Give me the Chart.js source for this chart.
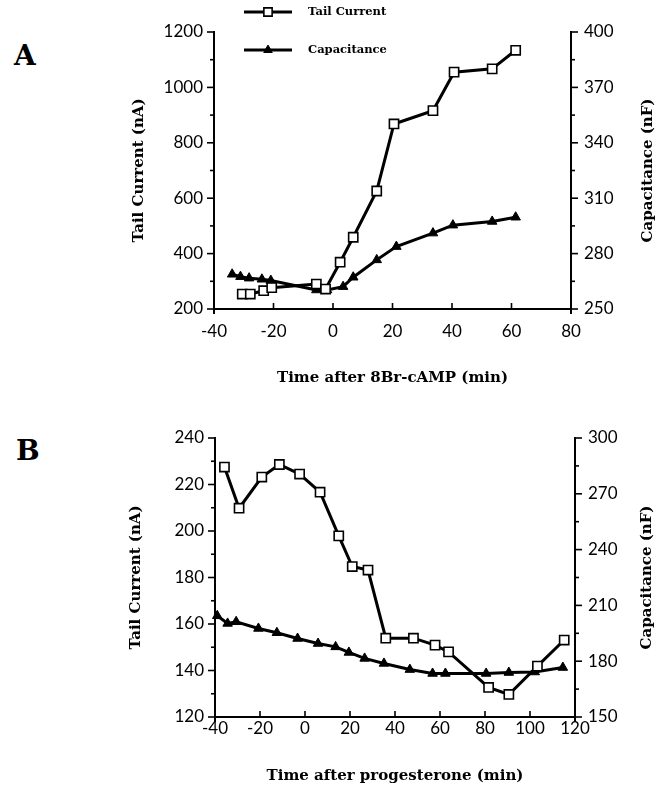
<!DOCTYPE html>
<html>
<head>
<meta charset="utf-8">
<script src="https://cdn.jsdelivr.net/npm/chart.js@4.4.0/dist/chart.umd.min.js"></script>
<style>
  body { margin: 0; background: #fff; width: 665px; height: 790px; position: relative; overflow: hidden; }
  canvas { position: absolute; left: 0; }
  #first_chart { top: 0; }
  #second_chart { top: 395px; }
  .panel { position: absolute; font: bold 28px 'DejaVu Serif'; line-height: 28px; color: #000; }
</style>
</head>
<body>
<div class="panel" style="left:14px;top:42px">A</div>
<div class="panel" style="left:16px;top:437px">B</div>
<canvas id="first_chart" width="665" height="395"></canvas>
<canvas id="second_chart" width="665" height="395"></canvas>
<script>
// panel A: 8Br-cAMP
const timeA_tail = [-30.5, -27.8, -23.3, -20.6, -5.6, -2.5, 2.4, 6.8, 14.7, 20.5, 33.6, 40.7, 53.5, 61.4]
const tailA = [254, 254, 266, 277, 290, 272, 369, 459, 626, 868, 916, 1055, 1067, 1134]
const timeA_cap = [-33.9, -31.1, -28.2, -23.9, -20.9, -5.6, -2, 3.4, 6.8, 14.7, 21.3, 33.6, 40.3, 53.5, 61.4]
const capA = [268.8, 267.5, 266.7, 266.1, 265.4, 260.3, 260.3, 262.1, 267.2, 276.6, 283.8, 291.1, 295.4, 297.4, 299.7]

// panel B: progesterone
const timeB_tail = [-35.8, -29.3, -19.2, -11.4, -2.4, 6.7, 15.0, 21.0, 28.0, 35.9, 48.2, 57.8, 63.8, 81.6, 90.6, 103.3, 115.2]
const tailB = [227.5, 209.8, 223.2, 228.6, 224.5, 216.7, 197.9, 184.7, 183.2, 153.9, 153.9, 150.9, 148.0, 132.7, 129.7, 141.9, 153.1]
const timeB_cap = [-39.0, -34.4, -30.6, -20.7, -12.5, -3.3, 5.8, 13.6, 19.5, 26.5, 35.1, 46.6, 56.7, 62.4, 80.5, 90.6, 102.1, 114.6]
const capB = [204.4, 200.3, 201.2, 197.6, 195.3, 192.2, 189.5, 187.7, 184.7, 181.5, 178.8, 175.5, 173.4, 173.4, 173.4, 173.9, 174.2, 176.6]

const legendLabels = ['Tail Current', 'Capacitance']
const rightTitle = 'Capacitance (nF)'

const tickFont = { family: 'Lato', size: 17 }
const titleFont = { family: 'DejaVu Serif', size: 15, weight: 'bold' }

const zip = (xs, ys) => xs.map((x, i) => ({ x: x, y: ys[i] }))

function tailSet(xs, ys) {
  return {
    label: legendLabels[0], data: zip(xs, ys), yAxisID: 'y',
    borderColor: '#000', borderWidth: 3, backgroundColor: '#fff',
    pointStyle: 'rect', pointRadius: 6.5, pointBorderWidth: 1.6,
    pointBackgroundColor: '#fff', pointBorderColor: '#000', clip: false
  }
}
function capSet(xs, ys) {
  return {
    label: legendLabels[1], data: zip(xs, ys), yAxisID: 'y1',
    borderColor: '#000', borderWidth: 3, backgroundColor: '#000',
    pointStyle: 'triangle', pointRadius: 5.5, pointBorderWidth: 1,
    pointBackgroundColor: '#000', pointBorderColor: '#000', clip: false
  }
}

// tick marks: outward on y axes (major + minor), inward on x axis
const tickMarks = {
  id: 'tickMarks',
  afterDraw(chart) {
    const ctx = chart.ctx
    const area = chart.chartArea
    ctx.save()
    ctx.strokeStyle = '#000'
    ctx.lineWidth = 1.6
    Object.values(chart.scales).forEach(s => {
      const major = s.options.majorStep
      const base = s.min
      s.ticks.forEach(t => {
        const p = s.getPixelForValue(t.value)
        const isMajor = Math.abs(((t.value - base) % major)) < 1e-6
        ctx.beginPath()
        if (s.axis === 'x') {
          ctx.moveTo(p, area.bottom)
          ctx.lineTo(p, area.bottom - 6)
        } else {
          const len = isMajor ? 7 : 4
          const x0 = s.position === 'left' ? area.left : area.right
          const dir = s.position === 'left' ? -1 : 1
          ctx.moveTo(x0, p)
          ctx.lineTo(x0 + dir * len, p)
        }
        ctx.stroke()
      })
      if (s.axis === 'y') {
        const x0 = s.position === 'left' ? area.left : area.right
        ctx.lineWidth = 2
        ctx.beginPath()
        ctx.moveTo(x0, area.bottom)
        ctx.lineTo(x0, area.bottom + 5)
        ctx.stroke()
        ctx.lineWidth = 1.6
      }
    })
    ctx.restore()
  }
}

// right axis title reads bottom-to-top like the left one
const rightAxisTitle = {
  id: 'rightAxisTitle',
  afterDraw(chart) {
    const o = chart.options.plugins.rightAxisTitle
    const area = chart.chartArea
    const ctx = chart.ctx
    ctx.save()
    ctx.translate(o.x, (area.top + area.bottom) / 2)
    ctx.rotate(-Math.PI / 2)
    ctx.fillStyle = '#000'
    ctx.font = 'bold 15px "DejaVu Serif"'
    ctx.textAlign = 'center'
    ctx.textBaseline = 'middle'
    ctx.fillText(rightTitle, 0, 0)
    ctx.restore()
  }
}

// legend drawn above panel A
const sampleLegend = {
  id: 'sampleLegend',
  afterDraw(chart) {
    if (!chart.options.plugins.sampleLegend.show) return
    const ctx = chart.ctx
    const rows = [12, 50]
    ctx.save()
    chart.data.datasets.forEach((ds, i) => {
      const y = rows[i]
      ctx.strokeStyle = '#000'
      ctx.lineWidth = 3
      ctx.beginPath()
      ctx.moveTo(244, y)
      ctx.lineTo(292, y)
      ctx.stroke()
      ctx.fillStyle = ds.pointBackgroundColor
      ctx.strokeStyle = ds.pointBorderColor
      ctx.lineWidth = ds.pointBorderWidth
      Chart.helpers.drawPoint(ctx, { pointStyle: ds.pointStyle, radius: ds.pointRadius * 0.9, borderWidth: ds.pointBorderWidth, rotation: 0 }, 268, y)
      ctx.fillStyle = '#000'
      ctx.font = 'bold 11.5px "DejaVu Serif"'
      ctx.textBaseline = 'middle'
      ctx.textAlign = 'left'
      ctx.fillText(ds.label, 308, y)
    })
    ctx.restore()
  }
}

function makeChart(el, cfg) {
  const yl = (v) => ((v - cfg.yMin) % cfg.yMajor === 0 ? v : '')
  const yr = (v) => ((v - cfg.rMin) % cfg.rMajor === 0 ? v : '')
  return new Chart(el, {
    type: 'line',
    data: { datasets: [tailSet(cfg.tx, cfg.ty), capSet(cfg.cx, cfg.cy)] },
    options: {
      responsive: false,
      animation: false,
      layout: { padding: { top: cfg.top, left: 0, right: 0, bottom: 0 } },
      plugins: {
        legend: { display: false }, tooltip: { enabled: false },
        sampleLegend: { show: cfg.legend }, rightAxisTitle: { x: cfg.rTitleX }
      },
      scales: {
        x: {
          type: 'linear', min: cfg.xMin, max: cfg.xMax, majorStep: 20,
          ticks: { stepSize: 20, font: tickFont, color: '#000', padding: cfg.xPad, maxRotation: 0 },
          grid: { display: false, drawTicks: false },
          border: { display: true, color: '#000', width: 2 },
          title: { display: true, text: cfg.xTitle, font: titleFont, color: '#000', padding: { top: 0, bottom: cfg.xTitlePad } },
          afterFit: s => { s.height = cfg.xH }
        },
        y: {
          position: 'left', min: cfg.yMin, max: cfg.yMax, majorStep: cfg.yMajor,
          ticks: { stepSize: cfg.yMinor, autoSkip: false, font: tickFont, color: '#000', padding: 11, callback: yl },
          grid: { display: false, drawTicks: false },
          border: { display: true, color: '#000', width: 2 },
          title: { display: true, text: 'Tail Current (nA)', font: titleFont, color: '#000', padding: { top: cfg.lTitlePad, bottom: 0 } },
          afterFit: s => { s.width = cfg.lW }
        },
        y1: {
          position: 'right', min: cfg.rMin, max: cfg.rMax, majorStep: cfg.rMajor,
          ticks: { stepSize: 15, autoSkip: false, font: tickFont, color: '#000', padding: 13, callback: yr },
          grid: { display: false, drawTicks: false },
          border: { display: true, color: '#000', width: 2 },
          afterFit: s => { s.width = cfg.rW }
        }
      }
    },
    plugins: [tickMarks, rightAxisTitle, sampleLegend]
  })
}

makeChart(document.getElementById('first_chart'), {
  tx: timeA_tail, ty: tailA, cx: timeA_cap, cy: capA,
  xMin: -40, xMax: 80, yMin: 200, yMax: 1200, yMinor: 100, yMajor: 200,
  rMin: 250, rMax: 400, rMajor: 30,
  xTitle: 'Time after 8Br-cAMP (min)',
  top: 32, lW: 214, rW: 94, xH: 86, xPad: 12, xTitlePad: 8, lTitlePad: 130, rTitleX: 648, legend: true
})

makeChart(document.getElementById('second_chart'), {
  tx: timeB_tail, ty: tailB, cx: timeB_cap, cy: capB,
  xMin: -40, xMax: 120, yMin: 120, yMax: 240, yMinor: 10, yMajor: 20,
  rMin: 150, rMax: 300, rMajor: 30,
  xTitle: 'Time after progesterone (min)',
  top: 43, lW: 215, rW: 90, xH: 73, xPad: 1, xTitlePad: 5, lTitlePad: 127, rTitleX: 647, legend: false
})
</script>
</body>
</html>
